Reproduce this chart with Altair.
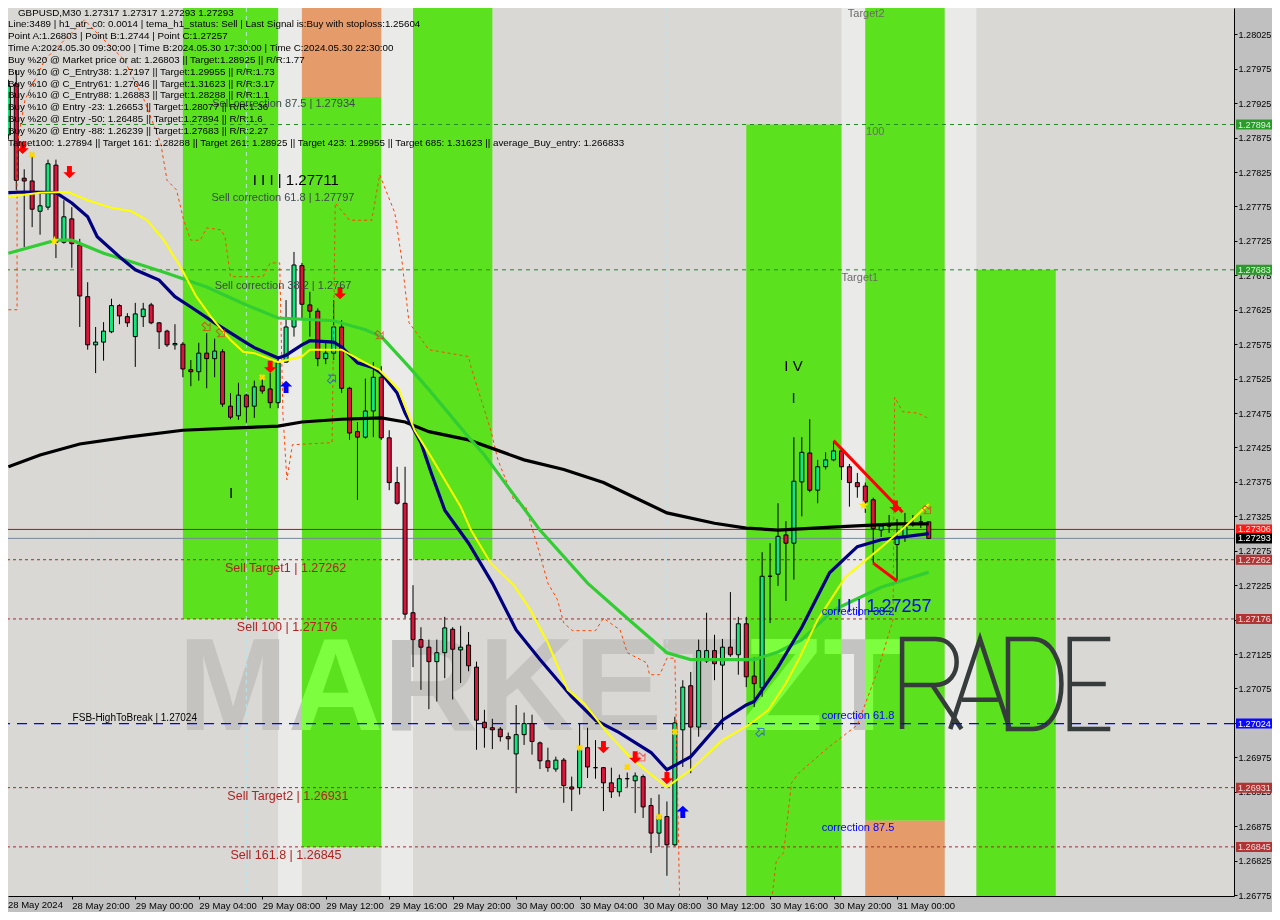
import json
import altair as alt
import pandas as pd

FONT = "Liberation Sans"

# ---------------- 30-minute GBPUSD bars, bar 0 = 28 May 2024 16:00 ----------------
opens = [1.27879, 1.27953, 1.27816, 1.27812, 1.27768, 1.27774, 1.27835, 1.27723, 1.27757, 1.27719,
         1.27644, 1.27574, 1.27578, 1.27593, 1.27631, 1.27615, 1.27586, 1.27615, 1.27632, 1.27606,
         1.27594, 1.27574, 1.27575, 1.27538, 1.27535, 1.27562, 1.27554, 1.27564, 1.27485, 1.27471,
         1.27501, 1.27485, 1.27514, 1.27510, 1.27490, 1.27549, 1.27600, 1.27689, 1.27632, 1.27623,
         1.27554, 1.27562, 1.27600, 1.27511, 1.27448, 1.27440, 1.27478, 1.27527, 1.27439, 1.27374,
         1.27344, 1.27185, 1.27146, 1.27135, 1.27114, 1.27127, 1.27161, 1.27131, 1.27138, 1.27106,
         1.27026, 1.27018, 1.27016, 1.27005, 1.26980, 1.27008, 1.27024, 1.26996, 1.26970, 1.26958,
         1.26971, 1.26932, 1.26931, 1.26989, 1.26960, 1.26960, 1.26938, 1.26925, 1.26944, 1.26941,
         1.26947, 1.26905, 1.26865, 1.26889, 1.26848, 1.27015, 1.27079, 1.27019, 1.27115, 1.27130,
         1.27109, 1.27135, 1.27124, 1.27169, 1.27093, 1.27076, 1.27238, 1.27241, 1.27298, 1.27286,
         1.27375, 1.27417, 1.27363, 1.27397, 1.27407, 1.27420, 1.27397, 1.27374, 1.27369, 1.27349,
         1.27305, 1.27311, 1.27284, 1.27295, 1.27313, 1.27317, 1.27317]
highs = [1.27959, 1.27973, 1.27829, 1.27850, 1.27795, 1.27843, 1.27843, 1.27784, 1.27774, 1.27728,
         1.27665, 1.27600, 1.27607, 1.27641, 1.27633, 1.27620, 1.27635, 1.27635, 1.27635, 1.27607,
         1.27596, 1.27604, 1.27578, 1.27552, 1.27577, 1.27591, 1.27583, 1.27568, 1.27504, 1.27519,
         1.27503, 1.27522, 1.27529, 1.27533, 1.27555, 1.27639, 1.27709, 1.27693, 1.27651, 1.27627,
         1.27577, 1.27639, 1.27610, 1.27513, 1.27462, 1.27525, 1.27549, 1.27543, 1.27450, 1.27397,
         1.27397, 1.27225, 1.27164, 1.27146, 1.27146, 1.27179, 1.27164, 1.27166, 1.27157, 1.27114,
         1.27044, 1.27031, 1.27019, 1.27011, 1.27051, 1.27040, 1.27037, 1.26998, 1.26989, 1.26976,
         1.26974, 1.26947, 1.27024, 1.27018, 1.27000, 1.26961, 1.26960, 1.26950, 1.26953, 1.26953,
         1.26950, 1.26916, 1.26921, 1.26911, 1.27034, 1.27087, 1.27099, 1.27146, 1.27185, 1.27153,
         1.27147, 1.27215, 1.27179, 1.27179, 1.27120, 1.27273, 1.27286, 1.27344, 1.27318, 1.27440,
         1.27440, 1.27466, 1.27407, 1.27418, 1.27433, 1.27421, 1.27401, 1.27388, 1.27374, 1.27352,
         1.27315, 1.27327, 1.27321, 1.27330, 1.27327, 1.27326, 1.27317]
lows = [1.27872, 1.27799, 1.27716, 1.27745, 1.27734, 1.27770, 1.27700, 1.27721, 1.27686, 1.27600,
        1.27567, 1.27533, 1.27551, 1.27591, 1.27604, 1.27600, 1.27542, 1.27600, 1.27604, 1.27568,
        1.27571, 1.27567, 1.27527, 1.27514, 1.27522, 1.27511, 1.27527, 1.27484, 1.27466, 1.27465,
        1.27461, 1.27468, 1.27503, 1.27482, 1.27482, 1.27548, 1.27586, 1.27610, 1.27586, 1.27543,
        1.27546, 1.27552, 1.27504, 1.27436, 1.27349, 1.27438, 1.27440, 1.27436, 1.27363, 1.27342,
        1.27177, 1.27106, 1.27073, 1.27045, 1.27056, 1.27090, 1.27059, 1.27083, 1.27100, 1.26986,
        1.26989, 1.26987, 1.26998, 1.26986, 1.26923, 1.26993, 1.26979, 1.26958, 1.26954, 1.26954,
        1.26909, 1.26897, 1.26921, 1.26945, 1.26944, 1.26897, 1.26916, 1.26918, 1.26932, 1.26894,
        1.26887, 1.26836, 1.26845, 1.26803, 1.26846, 1.26961, 1.26952, 1.27005, 1.27112, 1.27087,
        1.27015, 1.27121, 1.27095, 1.27077, 1.27048, 1.27063, 1.27170, 1.27224, 1.27202, 1.27233,
        1.27325, 1.27360, 1.27344, 1.27393, 1.27405, 1.27378, 1.27339, 1.27352, 1.27330, 1.27257,
        1.27295, 1.27301, 1.27233, 1.27288, 1.27310, 1.27308, 1.27293]
closes = [1.27950, 1.27813, 1.27812, 1.27771, 1.27776, 1.27837, 1.27723, 1.27760, 1.27721, 1.27645,
          1.27574, 1.27578, 1.27594, 1.27631, 1.27616, 1.27606, 1.27619, 1.27626, 1.27606, 1.27593,
          1.27574, 1.27576, 1.27539, 1.27535, 1.27562, 1.27554, 1.27565, 1.27488, 1.27469, 1.27501,
          1.27484, 1.27513, 1.27507, 1.27490, 1.27548, 1.27600, 1.27690, 1.27633, 1.27623, 1.27554,
          1.27562, 1.27600, 1.27511, 1.27446, 1.27440, 1.27478, 1.27527, 1.27439, 1.27374, 1.27344,
          1.27183, 1.27146, 1.27135, 1.27114, 1.27127, 1.27163, 1.27132, 1.27135, 1.27108, 1.27029,
          1.27018, 1.27015, 1.27005, 1.27002, 1.27008, 1.27024, 1.26998, 1.26970, 1.26960, 1.26971,
          1.26934, 1.26929, 1.26987, 1.26961, 1.26960, 1.26938, 1.26925, 1.26944, 1.26944, 1.26948,
          1.26903, 1.26865, 1.26889, 1.26848, 1.27025, 1.27077, 1.27019, 1.27130, 1.27130, 1.27111,
          1.27135, 1.27124, 1.27169, 1.27092, 1.27082, 1.27238, 1.27238, 1.27296, 1.27286, 1.27376,
          1.27418, 1.27363, 1.27397, 1.27407, 1.27420, 1.27397, 1.27374, 1.27368, 1.27346, 1.27307,
          1.27311, 1.27311, 1.27295, 1.27310, 1.27313, 1.27317, 1.27293]

# ---------------- moving averages (bar index, price) ----------------
black_k = [0, 4, 9, 15, 22, 28, 34, 37, 42, 47, 50, 53, 58, 65, 70, 75, 79, 83, 89, 93, 97, 105, 112, 116]
black_p = [1.27397, 1.27414, 1.27430, 1.27440, 1.27450, 1.27453, 1.27456, 1.27462, 1.27466, 1.27468,
           1.27462, 1.27448, 1.27436, 1.27407, 1.27393, 1.27374, 1.27352, 1.27330, 1.27315, 1.27308,
           1.27305, 1.27310, 1.27314, 1.27314]
green_k = [0, 6, 8, 12, 16, 20, 25, 30, 34, 41, 45, 47, 50.5, 53, 58, 60, 67, 73, 78, 83, 86, 94, 97,
           100, 104, 110, 116]
green_p = [1.27707, 1.27726, 1.27726, 1.27707, 1.27693, 1.27678, 1.27658, 1.27632, 1.27613, 1.27609,
           1.27596, 1.27586, 1.27542, 1.27509, 1.27440, 1.27414, 1.27305, 1.27228, 1.27177, 1.27127,
           1.27117, 1.27117, 1.27128, 1.27146, 1.27189, 1.27222, 1.27244]
navy_k = [0, 2, 6, 8, 10, 11.2, 14, 16, 19, 21, 23, 26, 30, 31, 34, 35, 37, 38, 41, 42, 44, 46, 47, 49,
          50, 52, 53.3, 55, 58, 61, 64, 67, 71, 74, 77, 81, 83, 86, 90, 93, 94, 97, 100, 103.5, 107, 110, 116]
navy_p = [1.27795, 1.27796, 1.27795, 1.27780, 1.27760, 1.27731, 1.27702, 1.27683, 1.27668, 1.27644,
          1.27629, 1.27606, 1.27577, 1.27570, 1.27555, 1.27559, 1.27574, 1.27580, 1.27578, 1.27571,
          1.27548, 1.27541, 1.27533, 1.27504, 1.27475, 1.27432, 1.27388, 1.27334, 1.27286, 1.27228,
          1.27160, 1.27117, 1.27063, 1.27029, 1.27011, 1.26982, 1.26957, 1.26976, 1.27029, 1.27051,
          1.27056, 1.27106, 1.27164, 1.27243, 1.27281, 1.27291, 1.27300]
yellow_k = [0, 4, 7.5, 10, 13, 15.5, 17.5, 19.6, 21.7, 23.7, 25.5, 28, 29.6, 31, 34, 37, 38, 42, 45, 46.7,
            49.2, 51.2, 53.3, 57, 58.3, 60.8, 63.7, 65.8, 68, 70.5, 72.5, 75.5, 78.3, 80.8, 83, 86, 90,
            93.3, 95.8, 98, 99.6, 102, 105.5, 109.6, 113, 116]
yellow_p = [1.27789, 1.27795, 1.27796, 1.27784, 1.27773, 1.27768, 1.27755, 1.27726, 1.27687, 1.27644,
            1.27615, 1.27581, 1.27564, 1.27562, 1.27549, 1.27557, 1.27567, 1.27567, 1.27548, 1.27538,
            1.27509, 1.27450, 1.27411, 1.27339, 1.27305, 1.27257, 1.27225, 1.27189, 1.27141, 1.27073,
            1.27054, 1.27011, 1.26976, 1.26952, 1.26932, 1.26957, 1.27000, 1.27022, 1.27044, 1.27083,
            1.27117, 1.27175, 1.27237, 1.27276, 1.27310, 1.27343]
# stepped orange-red dashed envelope, two visible pieces
orange_k1 = [0, 1.1, 1.1, 2.1, 4.6, 9.6, 10.8, 14.6, 17.1, 19.2, 20, 21.2, 22.1, 23, 24.2, 25, 26.8, 27.3,
             28, 32.1, 33, 34.2, 34.6, 35.1, 35.8, 40.8, 41.2, 43, 45.8, 46.8, 48.7, 49.6, 50.5, 51.8, 53,
             58, 58.3, 60.8, 61.7, 63.7, 65.2, 66.7, 68, 69.2, 70, 71.1, 74, 75, 77.1, 78, 80.5, 80.8,
             82.1, 83, 84, 84.2, 84.6]
orange_p1 = [1.27625, 1.27625, 1.27864, 1.27930, 1.27988, 1.28046, 1.28031, 1.27988, 1.27930, 1.27867,
             1.27813, 1.27799, 1.27755, 1.27726, 1.27726, 1.27744, 1.27741, 1.27731, 1.27673, 1.27673,
             1.27693, 1.27693, 1.27475, 1.27378, 1.27429, 1.27432, 1.27780, 1.27755, 1.27755, 1.27821,
             1.27766, 1.27697, 1.27606, 1.27586, 1.27567, 1.27557, 1.27542, 1.27450, 1.27407, 1.27349,
             1.27339, 1.27281, 1.27228, 1.27204, 1.27170, 1.27159, 1.27159, 1.27177, 1.27160, 1.27127,
             1.27112, 1.27095, 1.27095, 1.27119, 1.27119, 1.27011, 1.26768]
orange_k2 = [96.2, 96.8, 97.7, 98.7, 99.6, 103.3, 107, 109.6, 111.5, 111.7, 112.7, 114.6, 115.8]
orange_p2 = [1.26768, 1.26826, 1.26836, 1.26938, 1.26952, 1.26989, 1.27022, 1.27102, 1.27175, 1.27498,
             1.27477, 1.27475, 1.27468]

# ---------------- zones ----------------
band_k1 = [22, 37, 37, 51, 93, 108, 108, 122]
band_k2 = [34, 47, 47, 61, 105, 118, 118, 132]
band_lo = [1.27176, 1.26845, 1.27934, 1.27262, 1.2676, 1.26883, 1.2676, 1.2676]
band_hi = [1.2808, 1.27934, 1.2808, 1.2808, 1.27894, 1.2808, 1.26883, 1.27683]
band_kind = ["g", "g", "o", "g", "g", "g", "o", "g"]
stripe_k1 = [34, 47, 105, 118]
stripe_k2 = [37, 51, 108, 122]

# ---------------- horizontal levels ----------------
green_levels = [1.27894, 1.27683]
red_levels = [1.27262, 1.27176, 1.26931, 1.26845]
blue_level = [1.27024]
ask_price = [1.27306]
bid_price = [1.27293]
vline_k = [11, 30, 83]

box_prices = [1.27894, 1.27683, 1.27306, 1.27293, 1.27262, 1.27176, 1.27024, 1.26931, 1.26845]
box_fill = ["#2a9a2a", "#2a9a2a", "#ff1a1a", "#000000", "#b03434", "#b03434", "#0a0aff", "#b03434", "#b03434"]
box_text = ["#d8f5d8", "#d8f5d8", "#ffe8d8", "#ffffff", "#f2dcdc", "#f2dcdc", "#ffffff", "#f2dcdc", "#f2dcdc"]

price_ticks = [1.26775, 1.26825, 1.26875, 1.26925, 1.26975, 1.27025, 1.27075, 1.27125, 1.27175,
               1.27225, 1.27275, 1.27325, 1.27375, 1.27425, 1.27475, 1.27525, 1.27575, 1.27625,
               1.27675, 1.27725, 1.27775, 1.27825, 1.27875, 1.27925, 1.27975, 1.28025]
time_ticks = [0, 8, 16, 24, 32, 40, 48, 56, 64, 72, 80, 88, 96, 104, 112]
time_labels = ["28 May 2024", "28 May 20:00", "29 May 00:00", "29 May 04:00", "29 May 08:00",
               "29 May 12:00", "29 May 16:00", "29 May 20:00", "30 May 00:00", "30 May 04:00",
               "30 May 08:00", "30 May 12:00", "30 May 16:00", "30 May 20:00", "31 May 00:00"]

info_lines = [
    "Line:3489 | h1_atr_c0: 0.0014 | tema_h1_status: Sell | Last Signal is:Buy with stoploss:1.25604",
    "Point A:1.26803 | Point B:1.2744 | Point C:1.27257",
    "Time A:2024.05.30 09:30:00 | Time B:2024.05.30 17:30:00 | Time C:2024.05.30 22:30:00",
    "Buy %20 @ Market price or at: 1.26803 || Target:1.28925 || R/R:1.77",
    "Buy %10 @ C_Entry38: 1.27197 || Target:1.29955 || R/R:1.73",
    "Buy %10 @ C_Entry61: 1.27046 || Target:1.31623 || R/R:3.17",
    "Buy %10 @ C_Entry88: 1.26883 || Target:1.28288 || R/R:1.1",
    "Buy %10 @ Entry -23: 1.26653 || Target:1.28077 || R/R:1.36",
    "Buy %20 @ Entry -50: 1.26485 || Target:1.27894 || R/R:1.6",
    "Buy %20 @ Entry -88: 1.26239 || Target:1.27683 || R/R:2.27",
    "Target100: 1.27894 || Target 161: 1.28288 || Target 261: 1.28925 || Target 423: 1.29955 || Target 685: 1.31623 || average_Buy_entry: 1.266833",
]
title_line = "GBPUSD,M30  1.27317 1.27317 1.27293 1.27293"

# annotations: text, bar index, price, colour, font size
annotations = [
    ("Sell correction 87.5 | 1.27934", 25.7, 1.27924, "#3b4a4a", 11),
    ("I I I | 1.27711", 30.8, 1.27813, "#000000", 15),
    ("Sell correction 61.8 | 1.27797", 25.6, 1.27787, "#3b4a4a", 11),
    ("Sell correction 38.2 | 1.2767", 26.0, 1.27660, "#3b4a4a", 11),
    ("Sell Target1 | 1.27262", 27.3, 1.27250, "#b22222", 12.5),
    ("Sell 100 | 1.27176", 28.8, 1.27164, "#b22222", 12.5),
    ("Sell Target2 | 1.26931", 27.6, 1.26919, "#b22222", 12.5),
    ("Sell 161.8 | 1.26845", 28.0, 1.26833, "#b22222", 12.5),
    ("FSB-HighToBreak | 1.27024", 8.1, 1.27032, "#000000", 10),
    ("Target2", 105.8, 1.28055, "#6a6a6a", 11),
    ("100", 108.1, 1.27883, "#6a6a6a", 11),
    ("Target1", 105.0, 1.27671, "#6a6a6a", 11),
    ("I V", 97.8, 1.27543, "#000000", 15),
    ("I", 98.7, 1.27497, "#000080", 15),
    ("I", 27.8, 1.27359, "#000000", 15),
    ("I I | 1.27257", 104.4, 1.27194, "#0000ff", 18),
    ("correction 38.2", 102.5, 1.27186, "#0000ff", 11),
    ("correction 61.8", 102.5, 1.27035, "#0000ff", 11),
    ("correction 87.5", 102.5, 1.26873, "#0000ff", 11),
]

# signal markers (bar index, price)
down_k = [1.8, 7.7, 33, 41.8, 75, 79, 83, 111.8]
down_p = [1.27860, 1.27825, 1.27542, 1.27649, 1.26990, 1.26975, 1.26945, 1.27339]
up_k = [35, 85]
up_p = [1.27513, 1.26896]
hollow_red_k = [25, 26.8, 46.8, 115.8, 79.8]
hollow_red_p = [1.27600, 1.27591, 1.27588, 1.27334, 1.26975]
hollow_blue_k = [40.8, 94.8]
hollow_blue_p = [1.27525, 1.27012]
star_k = [5.8, 107.8]
star_p = [1.27725, 1.27341]
xmark_k = [3, 32, 72, 78, 82, 84]
xmark_p = [1.27850, 1.27527, 1.26989, 1.26961, 1.26889, 1.27012]
# A-B-C triangle strokes
tri_k = [104, 112.7, 109, 112]
tri_p = [1.27435, 1.27331, 1.27257, 1.27231]
tri_seg = [0, 0, 1, 1]

# ---------------- layout ----------------
W, H = 1226, 888
PX_PER_PRICE = 68862.0
Y_TOP = 1.280632
X_DOMAIN = [0.5875, 153.8375]
Y_DOMAIN = [Y_TOP - H / PX_PER_PRICE, Y_TOP]
XS = alt.Scale(domain=X_DOMAIN, nice=False, zero=False)
YS = alt.Scale(domain=Y_DOMAIN, nice=False, zero=False)

GREEN = "#5ce11e"
ORANGE = "#e59b6a"
STRIPE = "#eaeae9"
BULL = "#14e57c"
BEAR = "#dc143c"
X_FS = 9.5
Y_FS = 9.1

X_AXIS = alt.Axis(orient="bottom", values=time_ticks[1:],
                  labelExpr=json.dumps(time_labels) + "[round(datum.value / 8)]",
                  labelAlign="left", labelBaseline="top", labelPadding=1, tickSize=3,
                  labelFlush=False, labelOverlap=False, grid=False, title=None,
                  domainColor="black", tickColor="black", labelColor="#000000",
                  labelFont=FONT, labelFontSize=X_FS)
Y_AXIS = alt.Axis(orient="right", values=price_ticks, format=".5f", tickSize=3, labelPadding=1,
                  grid=False, title=None, domainColor="black", tickColor="black",
                  labelColor="#000000", labelFont=FONT, labelFontSize=Y_FS, labelOverlap=False)


def X(f="k"):
    return alt.X(f"{f}:Q", scale=XS, axis=X_AXIS, title=None)


def Y(f="p"):
    return alt.Y(f"{f}:Q", scale=YS, axis=Y_AXIS, title=None)


one = pd.DataFrame({"a": [0]})
layers = []

# light stripes (full height)
stripes = pd.DataFrame({"k1": stripe_k1, "k2": stripe_k2, "lo": Y_DOMAIN[0] - 0.001, "hi": Y_DOMAIN[1] + 0.001})
layers.append(alt.Chart(stripes).mark_rect(clip=True, color=STRIPE).encode(
    x=X("k1"), x2="k2", y=Y("lo"), y2="hi"))

# zones
bands = pd.DataFrame({"k1": band_k1, "k2": band_k2, "lo": band_lo, "hi": band_hi,
                      "col": [GREEN if b == "g" else ORANGE for b in band_kind]})
layers.append(alt.Chart(bands).mark_rect(clip=True).encode(
    x=X("k1"), x2="k2", y=Y("lo"), y2="hi", color=alt.Color("col:N", scale=None)))

# watermark logo
layers.append(alt.Chart(one).mark_text(text="MARKETZT", font=FONT, fontWeight="bold", fontSize=132,
                                       align="left", baseline="alphabetic", color="#c3c3c3",
                                       blend="luminosity").encode(x=alt.value(170), y=alt.value(722)))
LETTER_R = "M-0.62,1L-0.62,-1L0.12,-1C0.75,-1 0.75,0.02 0.12,0.02L-0.62,0.02M0.05,0.02L0.7,1"
LETTER_A = "M-0.66,1L0,-1L0.66,1M-0.4,0.35L0.4,0.35"
LETTER_D = "M-0.6,1L-0.6,-1L-0.05,-1C0.8,-1 0.8,1 -0.05,1Z"
LETTER_E = "M0.45,-1L-0.45,-1L-0.45,1L0.45,1M-0.45,0L0.35,0"
for shp, cx in [(LETTER_R, 922), (LETTER_A, 972), (LETTER_D, 1027), (LETTER_E, 1082)]:
    layers.append(alt.Chart(one).mark_point(shape=shp, filled=False, color="#363b3b", strokeWidth=4.5,
                                            size=8100, opacity=1).encode(
        x=alt.value(cx), y=alt.value(676)))

# vertical separators
layers.append(alt.Chart(pd.DataFrame({"k": vline_k})).mark_rule(
    color="#b8e2ea", strokeDash=[4, 4], strokeWidth=1).encode(x=X()))

# horizontal levels
layers.append(alt.Chart(pd.DataFrame({"p": green_levels})).mark_rule(
    color="#228b22", strokeDash=[4, 4], strokeWidth=1).encode(y=Y()))
layers.append(alt.Chart(pd.DataFrame({"p": red_levels})).mark_rule(
    color="#a52a2a", strokeDash=[3, 3], strokeWidth=1).encode(y=Y()))
layers.append(alt.Chart(pd.DataFrame({"p": blue_level})).mark_rule(
    color="#0000ff", strokeDash=[10, 7], strokeWidth=1.2).encode(y=Y()))
layers.append(alt.Chart(pd.DataFrame({"p": ask_price})).mark_rule(
    color="#e00000", strokeWidth=1).encode(y=Y()))
layers.append(alt.Chart(pd.DataFrame({"p": bid_price})).mark_rule(
    color="#778899", strokeWidth=1).encode(y=Y()))

# candles
bars = pd.DataFrame({"k": list(range(len(opens))), "o": opens, "h": highs, "l": lows, "c": closes})
layers.append(alt.Chart(bars).mark_rule(color="black", strokeWidth=1).encode(
    x=X(), y=Y("l"), y2="h"))
layers.append(alt.Chart(bars).mark_bar(size=4, stroke="black", strokeWidth=1).encode(
    x=X(), y=Y("o"), y2="c",
    color=alt.condition("datum.c >= datum.o", alt.value(BULL), alt.value(BEAR))))

# dashed envelope
orange = pd.DataFrame({"k": orange_k1 + orange_k2, "p": orange_p1 + orange_p2,
                       "seg": [0] * len(orange_k1) + [1] * len(orange_k2),
                       "i": list(range(len(orange_k1) + len(orange_k2)))})
layers.append(alt.Chart(orange).mark_line(clip=True, color="#ff4500", strokeWidth=1,
                                          strokeDash=[3, 3]).encode(
    x=X(), y=Y(), detail="seg:N", order="i:Q"))

# moving averages
for ks, ps, col, w in [(black_k, black_p, "#000000", 3.2), (green_k, green_p, "#32cd32", 3.2),
                       (navy_k, navy_p, "#000080", 3.2), (yellow_k, yellow_p, "#ffff00", 2)]:
    layers.append(alt.Chart(pd.DataFrame({"k": ks, "p": ps})).mark_line(
        color=col, strokeWidth=w, clip=True).encode(x=X(), y=Y()))

# triangle strokes
layers.append(alt.Chart(pd.DataFrame({"k": tri_k, "p": tri_p, "s": tri_seg})).mark_line(
    color="#ff0000", strokeWidth=3).encode(x=X(), y=Y(), detail="s:N"))

# markers
ARROW_DOWN = "M-0.4,-1L0.4,-1L0.4,0.05L1,0.05L0,1L-1,0.05L-0.4,0.05Z"
ARROW_UP = "M-0.4,1L0.4,1L0.4,-0.05L1,-0.05L0,-1L-1,-0.05L-0.4,-0.05Z"
STAR = "M0,-1L0.24,-0.33L0.95,-0.31L0.38,0.12L0.59,0.81L0,0.4L-0.59,0.81L-0.38,0.12L-0.95,-0.31L-0.24,-0.33Z"
layers.append(alt.Chart(pd.DataFrame({"k": down_k, "p": down_p})).mark_point(
    shape=ARROW_DOWN, filled=True, color="#ff0000", size=150, opacity=1).encode(x=X(), y=Y()))
layers.append(alt.Chart(pd.DataFrame({"k": up_k, "p": up_p})).mark_point(
    shape=ARROW_UP, filled=True, color="#0000ff", size=150, opacity=1).encode(x=X(), y=Y()))
layers.append(alt.Chart(pd.DataFrame({"k": hollow_red_k, "p": hollow_red_p})).mark_point(
    shape=ARROW_DOWN, filled=False, color="#ff2020", size=90, angle=315, strokeWidth=1).encode(x=X(), y=Y()))
layers.append(alt.Chart(pd.DataFrame({"k": hollow_blue_k, "p": hollow_blue_p})).mark_point(
    shape=ARROW_UP, filled=False, color="#2040ff", size=90, angle=45, strokeWidth=1).encode(x=X(), y=Y()))
layers.append(alt.Chart(pd.DataFrame({"k": star_k, "p": star_p})).mark_point(
    shape=STAR, filled=True, color="#ffe600", size=110, opacity=1).encode(x=X(), y=Y()))
layers.append(alt.Chart(pd.DataFrame({"k": xmark_k, "p": xmark_p})).mark_point(
    shape="cross", filled=True, color="#ffd700", size=45, angle=45, opacity=1).encode(x=X(), y=Y()))

# annotations
for txt, k, p, col, fs in annotations:
    layers.append(alt.Chart(pd.DataFrame({"k": [k], "p": [p], "t": [txt]})).mark_text(
        font=FONT, fontSize=fs, color=col, align="left", baseline="middle").encode(
        x=X(), y=Y(), text="t:N"))

# price boxes on the axis
half = 5.0 / PX_PER_PRICE
boxes = pd.DataFrame({"p": box_prices, "lo": [v - half for v in box_prices],
                      "hi": [v + half for v in box_prices], "fill": box_fill, "tc": box_text,
                      "t": [f"{v:.5f}" for v in box_prices]})
layers.append(alt.Chart(boxes).mark_rect().encode(
    x=alt.value(W + 2), x2=alt.value(W + 38), y=Y("lo"), y2="hi",
    color=alt.Color("fill:N", scale=None)))
layers.append(alt.Chart(boxes).mark_text(font=FONT, fontSize=Y_FS, align="left", baseline="middle").encode(
    x=alt.value(W + 4), y=Y(), text="t:N", color=alt.Color("tc:N", scale=None)))

# info panel (screen anchored)
layers.append(alt.Chart(one).mark_text(text=title_line, font=FONT, fontSize=9.8, color="black",
                                       align="left", baseline="top").encode(
    x=alt.value(10), y=alt.value(0)))
for i, line in enumerate(info_lines):
    layers.append(alt.Chart(one).mark_text(text=line, font=FONT, fontSize=9.8, color="black",
                                           align="left", baseline="middle").encode(
        x=alt.value(0), y=alt.value(16 + 11.9 * i)))
layers.append(alt.Chart(one).mark_text(text=time_labels[0], font=FONT, fontSize=X_FS, color="#000000",
                                       align="left", baseline="top").encode(
    x=alt.value(0), y=alt.value(H + 4)))

chart = alt.layer(*layers).properties(
    width=W, height=H,
    autosize=alt.AutoSizeParams(type="none"),
    padding={"left": 0, "top": 0, "right": 38, "bottom": 16},
    background="#c0c0c0",
).configure_view(fill="#d9d8d5", stroke=None)

chart.save("out.html", embed_options={"renderer": "svg", "actions": False})
